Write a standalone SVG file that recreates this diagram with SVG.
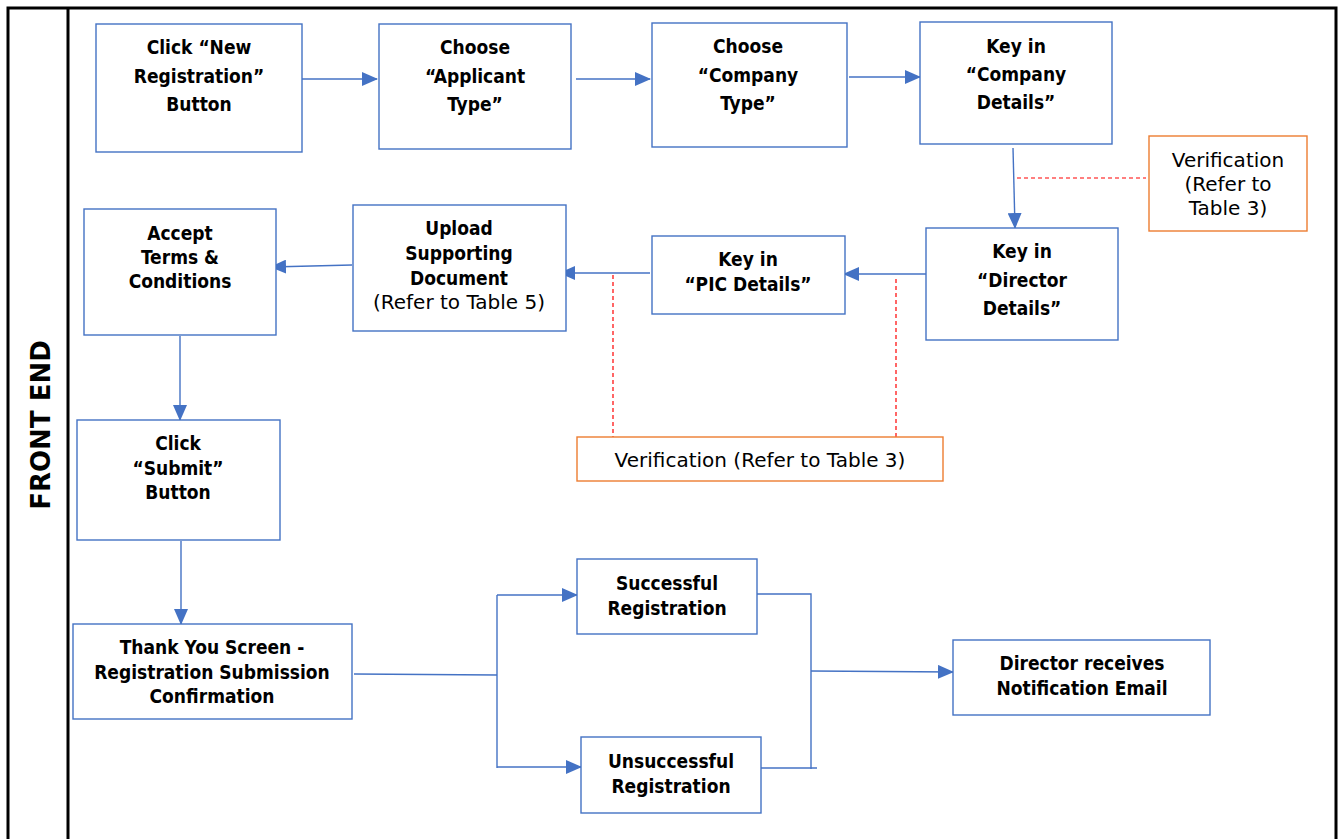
<svg xmlns="http://www.w3.org/2000/svg" width="1343" height="839" viewBox="0 0 1343 839">
<style>
.box{fill:#fff;stroke:#4472C4;stroke-width:1.4}
.obox{fill:#fff;stroke:#ED7D31;stroke-width:1.4}
.t{font-family:"DejaVu Sans Condensed","DejaVu Sans",sans-serif;font-size:19px;font-weight:bold;fill:#000;text-anchor:middle}
.n{font-family:"DejaVu Sans","Liberation Sans",sans-serif;font-size:20px;fill:#000;text-anchor:middle}
.c{fill:none;stroke:#4472C4;stroke-width:1.4}
.d{fill:none;stroke:#FF0000;stroke-width:1.2;stroke-dasharray:4 3}
.frame{fill:none;stroke:#000;stroke-width:3}
</style>
<defs>
<marker id="ah" markerUnits="userSpaceOnUse" markerWidth="16" markerHeight="14" refX="15" refY="7" orient="auto">
<path d="M0,0 L16,7 L0,14 Z" fill="#4472C4"/>
</marker>
</defs>
<rect width="1343" height="839" fill="#fff"/>
<g id="frame">
<path class="frame" d="M8,845 V8 H1336 V845"/>
<line class="frame" x1="68" y1="8" x2="68" y2="845"/>
<text transform="translate(50,425) rotate(-90)" style="font-family:'DejaVu Sans','Liberation Sans',sans-serif;font-size:26px;font-weight:bold;text-anchor:middle">FRONT END</text>
</g>
<g id="connectors">
<line class="c" x1="302" y1="79" x2="377" y2="79" marker-end="url(#ah)"/>
<line class="c" x1="576" y1="79" x2="650" y2="79" marker-end="url(#ah)"/>
<line class="c" x1="849" y1="77" x2="920" y2="77" marker-end="url(#ah)"/>
<line class="c" x1="1013" y1="148" x2="1015" y2="228" marker-end="url(#ah)"/>
<line class="c" x1="930" y1="274" x2="844" y2="274" marker-end="url(#ah)"/>
<line class="c" x1="650" y1="273" x2="560" y2="273" marker-end="url(#ah)"/>
<line class="c" x1="352" y1="265" x2="271" y2="267" marker-end="url(#ah)"/>
<line class="c" x1="180" y1="336" x2="180" y2="420" marker-end="url(#ah)"/>
<line class="c" x1="181" y1="541" x2="181" y2="624" marker-end="url(#ah)"/>
<polyline class="c" points="354,674 497,675"/>
<line class="c" x1="497" y1="595" x2="497" y2="768"/>
<line class="c" x1="497" y1="595" x2="577" y2="595" marker-end="url(#ah)"/>
<line class="c" x1="497" y1="767" x2="581" y2="767" marker-end="url(#ah)"/>
<polyline class="c" points="757,594 811,594 811,769"/>
<line class="c" x1="761" y1="768" x2="817" y2="768"/>
<line class="c" x1="811" y1="671" x2="953" y2="672" marker-end="url(#ah)"/>
<line class="d" x1="1017" y1="178" x2="1146" y2="178"/>
<line class="d" x1="613" y1="275" x2="613" y2="437"/>
<line class="d" x1="896" y1="279" x2="896" y2="437"/>
</g>
<g id="n1"><rect class="box" x="96" y="24" width="206" height="128"/>
<text class="t" x="199" y="54">Click “New</text><text class="t" x="199" y="83">Registration”</text><text class="t" x="199" y="111">Button</text></g>
<g id="n2"><rect class="box" x="379" y="24" width="192" height="125"/>
<text class="t" x="475" y="54">Choose</text><text class="t" x="475" y="83">“Applicant</text><text class="t" x="475" y="111">Type”</text></g>
<g id="n3"><rect class="box" x="652" y="23" width="195" height="124"/>
<text class="t" x="748" y="53">Choose</text><text class="t" x="748" y="82">“Company</text><text class="t" x="748" y="110">Type”</text></g>
<g id="n4"><rect class="box" x="920" y="22" width="192" height="122"/>
<text class="t" x="1016" y="53">Key in</text><text class="t" x="1016" y="81">“Company</text><text class="t" x="1016" y="109">Details”</text></g>
<g id="v1"><rect class="obox" x="1149" y="136" width="158" height="95"/>
<text class="n" x="1228" y="167">Verification</text><text class="n" x="1228" y="191">(Refer to</text><text class="n" x="1228" y="215">Table 3)</text></g>
<g id="n5"><rect class="box" x="926" y="228" width="192" height="112"/>
<text class="t" x="1022" y="258">Key in</text><text class="t" x="1022" y="287">“Director</text><text class="t" x="1022" y="315">Details”</text></g>
<g id="n6"><rect class="box" x="652" y="236" width="193" height="78"/>
<text class="t" x="748" y="266">Key in</text><text class="t" x="748" y="291">“PIC Details”</text></g>
<g id="n7"><rect class="box" x="353" y="205" width="213" height="126"/>
<text class="t" x="459" y="235">Upload</text><text class="t" x="459" y="260">Supporting</text><text class="t" x="459" y="285">Document</text><text class="n" x="459" y="309">(Refer to Table 5)</text></g>
<g id="n8"><rect class="box" x="84" y="209" width="192" height="126"/>
<text class="t" x="180" y="240">Accept</text><text class="t" x="180" y="264">Terms &amp;</text><text class="t" x="180" y="288">Conditions</text></g>
<g id="n9"><rect class="box" x="77" y="420" width="203" height="120"/>
<text class="t" x="178" y="450">Click</text><text class="t" x="178" y="475">“Submit”</text><text class="t" x="178" y="499">Button</text></g>
<g id="n10"><rect class="box" x="73" y="624" width="279" height="95"/>
<text class="t" x="212" y="654">Thank You Screen -</text><text class="t" x="212" y="679">Registration Submission</text><text class="t" x="212" y="703">Confirmation</text></g>
<g id="v2"><rect class="obox" x="577" y="437" width="366" height="44"/>
<text class="n" x="760" y="467">Verification (Refer to Table 3)</text></g>
<g id="n11"><rect class="box" x="577" y="559" width="180" height="75"/>
<text class="t" x="667" y="590">Successful</text><text class="t" x="667" y="615">Registration</text></g>
<g id="n12"><rect class="box" x="581" y="737" width="180" height="76"/>
<text class="t" x="671" y="768">Unsuccessful</text><text class="t" x="671" y="793">Registration</text></g>
<g id="n13"><rect class="box" x="953" y="640" width="257" height="75"/>
<text class="t" x="1082" y="670">Director receives</text><text class="t" x="1082" y="695">Notification Email</text></g>
</svg>
